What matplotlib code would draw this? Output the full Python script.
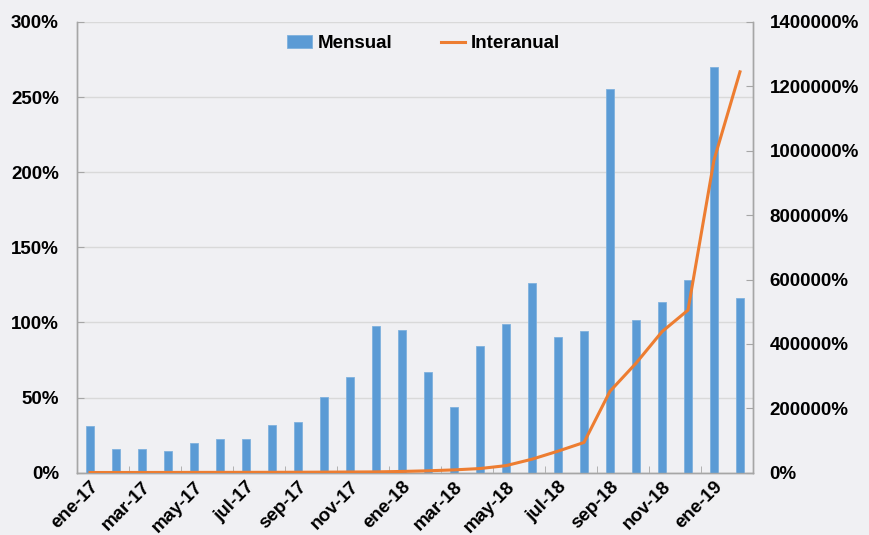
import numpy as np
import matplotlib
matplotlib.use("Agg")
import matplotlib.pyplot as plt
from matplotlib.ticker import FuncFormatter, FixedLocator

plt.rcParams["font.family"] = ["Liberation Sans", "DejaVu Sans"]
plt.rcParams["font.weight"] = "bold"

months = ["ene-17", "feb-17", "mar-17", "abr-17", "may-17", "jun-17", "jul-17", "ago-17",
          "sep-17", "oct-17", "nov-17", "dic-17", "ene-18", "feb-18", "mar-18", "abr-18",
          "may-18", "jun-18", "jul-18", "ago-18", "sep-18", "oct-18", "nov-18", "dic-18",
          "ene-19", "feb-19"]
# monthly inflation (%), left axis
mensual = [30.9, 15.8, 15.8, 14.6, 19.6, 22.2, 22.2, 32.0, 33.5, 50.4, 63.7, 97.7,
           95.0, 67.0, 43.7, 84.4, 99.0, 126.3, 90.1, 94.3, 255.5, 101.5, 113.4, 128.5,
           269.9, 116.5]
# year-on-year inflation (%), right axis
interanual = [700, 750, 800, 900, 1000, 1100, 1200, 1300, 1500, 1800, 2200, 2600,
              4000, 6000, 8800, 13000, 22000, 42000, 67000, 94000, 253000, 340000,
              438000, 505000, 971000, 1245000]

BG = "#f0f0f3"
BAR = "#5b9bd5"
LINE = "#ed7d31"
GRID = "#d9d9d9"
AXC = "#a6a6a6"
FS = 13.5

fig = plt.figure(figsize=(8.7, 5.35), dpi=100, facecolor=BG)
ax = fig.add_axes([0.0885, 0.1164, 0.777, 0.8426], facecolor=BG)
ax2 = ax.twinx()

x = np.arange(len(months))
ax.bar(x, mensual, width=0.32, color=BAR, edgecolor="#7fb1de", linewidth=0.6,
       label="Mensual", zorder=3)
ax2.plot(x, interanual, color=LINE, linewidth=2.2, label="Interanual", zorder=4)

ax.set_xlim(-0.5, len(months) - 0.5)
ax.set_ylim(0, 300)
ax2.set_ylim(0, 1400000)

ax.set_yticks(np.arange(0, 301, 50))
ax.yaxis.set_major_formatter(FuncFormatter(lambda v, p: f"{v:.0f}%"))
ax2.set_yticks(np.arange(0, 1400001, 200000))
ax2.yaxis.set_major_formatter(FuncFormatter(lambda v, p: f"{v:.0f}%"))

ax.set_xticks(x[::2])
ax.set_xticklabels(months[::2], rotation=45, ha="right", rotation_mode="anchor")
ax.xaxis.set_minor_locator(FixedLocator(np.arange(1.5, len(months) - 1, 2)))
ax.tick_params(axis="x", which="major", length=0, pad=4, labelsize=FS)
ax.tick_params(axis="x", which="minor", direction="in", length=5, color=AXC)
ax.tick_params(axis="y", direction="in", length=5, color=AXC, labelsize=FS, pad=13)
ax2.tick_params(axis="y", direction="in", length=5, color=AXC, labelsize=FS, pad=12)

ax.grid(axis="y", color=GRID, linewidth=1.0, zorder=0)
ax.set_axisbelow(True)

for a in (ax, ax2):
    a.spines["top"].set_visible(False)
    for s in ("left", "right", "bottom"):
        a.spines[s].set_color(AXC)
        a.spines[s].set_linewidth(1.0)

h1, l1 = ax.get_legend_handles_labels()
h2, l2 = ax2.get_legend_handles_labels()
leg = ax.legend(h1 + h2, l1 + l2, loc="upper center", bbox_to_anchor=(0.513, 1.008),
                ncol=2, frameon=False, fontsize=FS, handlelength=1.3,
                handletextpad=0.3, columnspacing=2.6)

fig.savefig("out.png", dpi=100, facecolor=BG)
